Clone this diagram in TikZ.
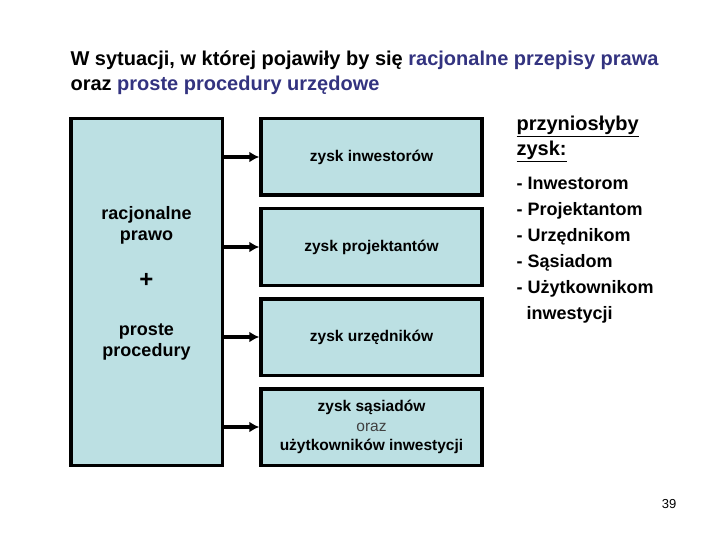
\documentclass[tikz,border=0pt]{standalone}
\usepackage{fontspec}
\setmainfont{Liberation Sans}
\usetikzlibrary{arrows.meta}
\definecolor{boxblue}{RGB}{188,224,227}
\definecolor{navy}{RGB}{51,51,128}
\tikzset{
  box/.style={rectangle,draw,fill=boxblue,line width=3.5pt,align=center,
    minimum width=221pt,minimum height=76.5pt,font=\bfseries\fontsize{15.5}{19.5}\selectfont},
  arr/.style={line width=3.5pt,-{Latex[length=10pt,width=11pt]}}
}
\begin{document}
\begin{tikzpicture}[x=1pt,y=-1pt]
  \useasboundingbox (0,0) rectangle (720,540);
  \node[anchor=base west,align=left,font=\bfseries\fontsize{20}{25}\selectfont] (title) at (67,91)
    {W sytuacji, w której pojawiły by się \textcolor{navy}{racjonalne przepisy prawa}\\
     oraz \textcolor{navy}{proste procedury urzędowe}};
  \node[box,minimum width=151.5pt,minimum height=346.5pt] (law) at (146.5,292) {};
  \node[align=center,font=\bfseries\fontsize{18}{21}\selectfont] (lawtxt) at (146.5,283)
    {racjonalne\\prawo\\[26pt]{\fontsize{24}{24}\selectfont +}\\[27pt]proste\\procedury};
  \node[box] (inv) at (371.5,157) {zysk inwestorów};
  \node[box] (proj) at (371.5,247) {zysk projektantów};
  \node[box] (urz) at (371.5,337) {zysk urzędników};
  \node[box] (sas) at (371.5,427) {zysk sąsiadów\\{\mdseries\color{black!75}oraz}\\użytkowników inwestycji};
  \draw[arr] (law.east |- inv.west) -- (inv.west);
  \draw[arr] (law.east |- proj.west) -- (proj.west);
  \draw[arr] (law.east |- urz.west) -- (urz.west);
  \draw[arr] (law.east |- sas.west) -- (sas.west);
  \node[anchor=base west,align=left,font=\bfseries\fontsize{20}{25}\selectfont] (gain) at (513,156)
    {\underline{przyniosłyby}\\\underline{zysk:}};
  \node[anchor=base west,align=left,font=\bfseries\fontsize{18}{26}\selectfont] (who) at (513,319)
    {- Inwestorom\\- Projektantom\\- Urzędnikom\\- Sąsiadom\\- Użytkownikom\\\hspace*{10pt}inwestycji};
  \node[font=\fontsize{13}{13}\selectfont] (page) at (669,504) {39};
\end{tikzpicture}
\end{document}
